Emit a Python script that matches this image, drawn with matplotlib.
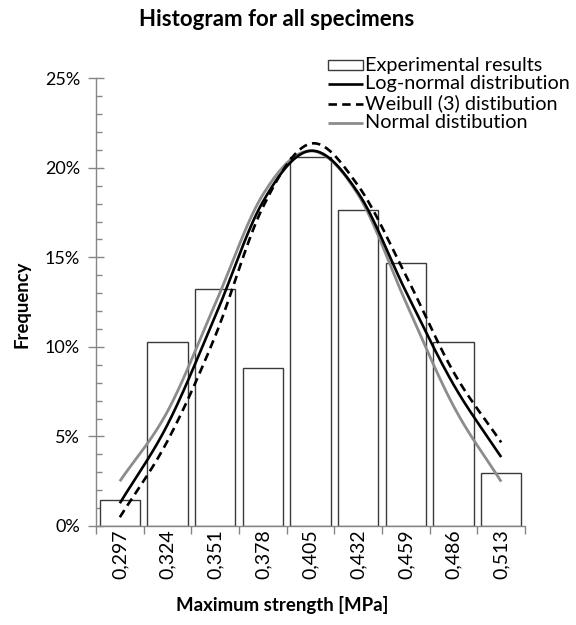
import numpy as np
import matplotlib
matplotlib.use("Agg")
import matplotlib.pyplot as plt
from matplotlib.patches import Rectangle
from matplotlib.lines import Line2D
from matplotlib.ticker import MultipleLocator, FuncFormatter

plt.rcParams['font.family'] = ['Lato', 'DejaVu Sans']

categories = ["0,297", "0,324", "0,351", "0,378", "0,405", "0,432", "0,459", "0,486", "0,513"]
experimental = [1.47, 10.29, 13.24, 8.82, 20.59, 17.65, 14.71, 10.29, 2.94]
lognormal = [1.27, 5.66, 11.7, 18.1, 20.95, 18.6, 13.1, 7.9, 3.85]
weibull = [0.49, 4.75, 10.6, 17.8, 21.35, 19.0, 14.0, 8.6, 4.67]
normal = [2.5, 6.4, 12.4, 18.5, 20.95, 18.5, 12.5, 6.7, 2.48]
legend_labels = ["Experimental results", "Log-normal distribution",
                 "Weibull (3) distibution", "Normal distibution"]

AXIS_GRAY = '#868686'
LINE_GRAY = '#8c8c8c'
W, H = 576, 625


def catmull_rom(x, y, n=30):
    x = np.asarray(x, float)
    y = np.asarray(y, float)
    px = np.concatenate([[2 * x[0] - x[1]], x, [2 * x[-1] - x[-2]]])
    py = np.concatenate([[2 * y[0] - y[1]], y, [2 * y[-1] - y[-2]]])
    xs, ys = [], []
    for i in range(1, len(px) - 2):
        t = np.linspace(0, 1, n, endpoint=(i == len(px) - 3))
        f = lambda a0, a1, a2, a3: 0.5 * ((2 * a1) + (-a0 + a2) * t +
                                          (2 * a0 - 5 * a1 + 4 * a2 - a3) * t ** 2 +
                                          (-a0 + 3 * a1 - 3 * a2 + a3) * t ** 3)
        xs.append(f(px[i - 1], px[i], px[i + 1], px[i + 2]))
        ys.append(f(py[i - 1], py[i], py[i + 1], py[i + 2]))
    return np.concatenate(xs), np.concatenate(ys)


fig = plt.figure(figsize=(5.76, 6.25), dpi=100)
ax = fig.add_axes([96 / W, 1 - 526 / H, (525 - 96) / W, (526 - 78.3) / H])

pos = np.arange(len(categories))
ax.bar(pos, np.array(experimental) / 100, width=0.85, color='white',
       edgecolor='#3a3a3a', linewidth=1.0, zorder=2)

DASH = (0, (3.2, 2.0))
styles = [
    dict(color='black', lw=1.9),
    dict(color='black', lw=1.9, linestyle=DASH),
    dict(color=LINE_GRAY, lw=2.0),
]
for vals, kw in zip([lognormal, weibull, normal], styles):
    sx, sy = catmull_rom(pos, np.array(vals) / 100)
    z = 3 if kw['color'] == 'black' else 2.9
    ax.plot(sx, sy, zorder=z, solid_capstyle='butt', **kw)

ax.set_xlim(-0.5, len(categories) - 0.5)
ax.set_ylim(0, 0.25)

for s in ['top', 'right']:
    ax.spines[s].set_visible(False)
for s in ['left', 'bottom']:
    ax.spines[s].set_color(AXIS_GRAY)
    ax.spines[s].set_linewidth(1.0)

ax.yaxis.set_major_locator(MultipleLocator(0.05))
ax.yaxis.set_minor_locator(MultipleLocator(0.01))
ax.yaxis.set_major_formatter(FuncFormatter(lambda v, p: f"{round(v * 100)}%"))
ax.tick_params(axis='y', which='major', direction='inout', length=11, width=1,
               color=AXIS_GRAY, labelsize=13, pad=6)
ax.tick_params(axis='y', which='minor', direction='in', length=4, width=1,
               color=AXIS_GRAY)

ax.set_xticks(np.arange(-0.5, len(categories), 1.0))
ax.set_xticklabels([])
ax.set_xticks(pos, minor=True)
ax.set_xticklabels(categories, minor=True, rotation=90, fontsize=14)
ax.tick_params(axis='x', which='major', direction='out', length=6, width=1, color=AXIS_GRAY)
ax.tick_params(axis='x', which='minor', length=0, pad=2.5)

fig.text(277 / W, 1 - 20 / H, "Histogram for all specimens", ha='center', va='center',
         fontsize=16, fontweight='bold')
fig.text(282 / W, 1 - 605 / H, "Maximum strength [MPa]", ha='center', va='center',
         fontsize=13.4, fontweight='bold')
fig.text(22 / W, 1 - 304 / H, "Frequency", ha='center', va='center', rotation=90,
         fontsize=13.3, fontweight='bold')

# legend, drawn in figure pixel positions
row_y = [65, 84, 103.5, 123]
x0, x1, xt = 328, 363, 365
for i, (lab, yy) in enumerate(zip(legend_labels, row_y)):
    yf = 1 - yy / H
    if i == 0:
        fig.add_artist(Rectangle((x0 / W, 1 - (yy + 5) / H), (x1 - x0) / W, 10 / H,
                                 transform=fig.transFigure, facecolor='white',
                                 edgecolor='#3a3a3a', linewidth=1.0))
    else:
        fig.add_artist(Line2D([x0 / W, x1 / W], [yf, yf], transform=fig.transFigure,
                              solid_capstyle='butt', **styles[i - 1]))
    fig.text(xt / W, yf, lab, ha='left', va='center', fontsize=14.3)

fig.savefig("out.png", dpi=100)
